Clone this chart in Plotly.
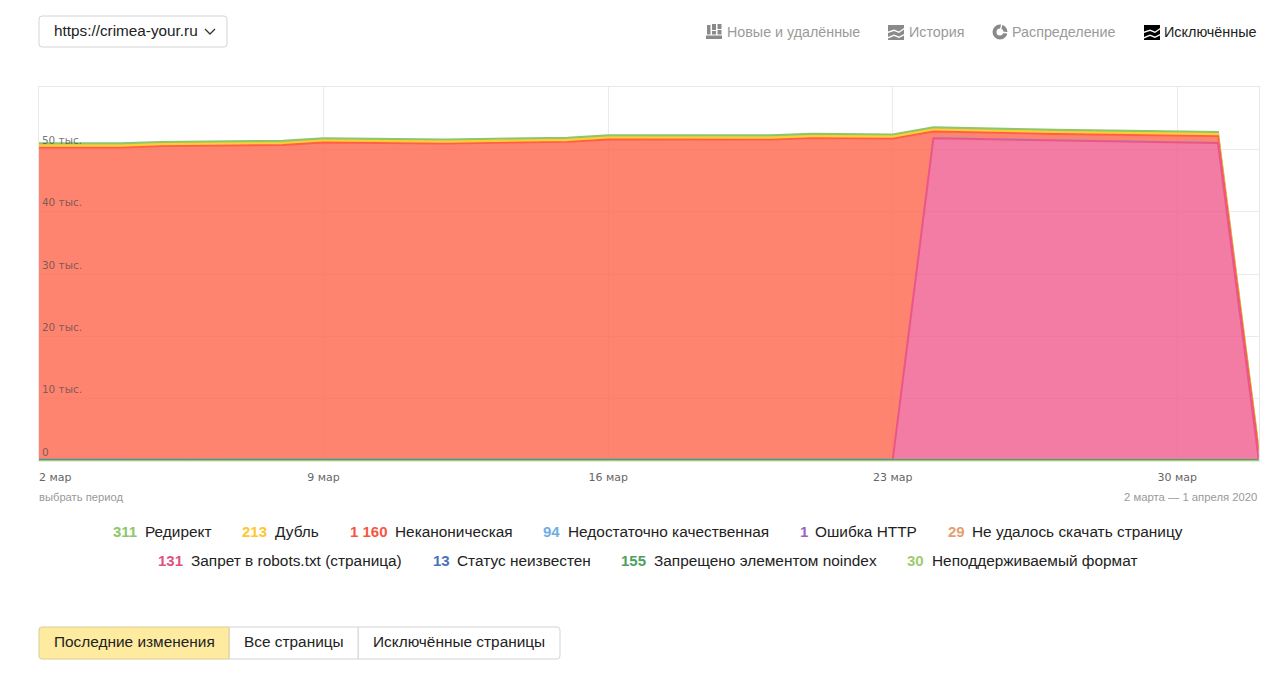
import plotly.graph_objects as go

W, H = 1280, 682

dates = ["2020-03-02", "2020-03-04", "2020-03-05", "2020-03-08", "2020-03-09", "2020-03-11",
         "2020-03-12", "2020-03-15", "2020-03-16", "2020-03-20", "2020-03-21", "2020-03-23",
         "2020-03-24", "2020-03-27", "2020-03-31", "2020-04-01"]

unsupported = [30, 30, 30, 30, 30, 30, 30, 30, 30, 30, 30, 30, 30, 30, 30, 30]
noindex = [150, 150, 155, 155, 160, 155, 155, 155, 160, 155, 155, 155, 155, 155, 155, 155]
status_unknown = [13, 13, 13, 13, 13, 13, 13, 13, 13, 13, 13, 13, 13, 13, 13, 13]
robots = [0, 0, 0, 0, 0, 0, 0, 0, 0, 0, 0, 0, 51570, 51220, 50800, 131]
failed = [29, 29, 29, 29, 29, 29, 29, 29, 29, 29, 29, 29, 29, 29, 29, 29]
http_error = [1, 1, 1, 1, 1, 1, 1, 1, 1, 1, 1, 1, 1, 1, 1, 1]
low_quality = [100, 100, 100, 100, 100, 100, 100, 100, 100, 100, 100, 100, 100, 100, 100, 94]
noncanonical = [49965, 49965, 50195, 50365, 50765, 50595, 50595, 50875, 51245, 51245, 51485, 51395,
                965, 915, 1000, 1160]
duplicate = [330, 330, 330, 330, 330, 330, 330, 330, 330, 330, 330, 330, 330, 330, 330, 213]
redirect = [340, 340, 340, 340, 340, 340, 340, 340, 340, 340, 340, 340, 340, 340, 340, 311]

x_tick_dates = ["2020-03-09", "2020-03-16", "2020-03-23", "2020-03-30"]
x_tick_labels = ["9 мар", "16 мар", "23 мар", "30 мар"]
y_tick_values = [0, 10000, 20000, 30000, 40000, 50000]
y_tick_labels = ["0", "10 тыс.", "20 тыс.", "30 тыс.", "40 тыс.", "50 тыс."]

series = [
    (unsupported, "Неподдерживаемый формат", (160, 204, 112), 0.75, 1.5),
    (noindex, "Запрещено элементом noindex", (79, 160, 96), 0.75, 1.5),
    (status_unknown, "Статус неизвестен", (74, 112, 192), 0.75, 1),
    (robots, "Запрет в robots.txt (страница)", (238, 85, 135), 0.77, 2),
    (failed, "Не удалось скачать страницу", (226, 160, 112), 0.75, 1),
    (http_error, "Ошибка HTTP", (160, 96, 192), 0.75, 0.5),
    (low_quality, "Недостаточно качественная", (112, 174, 224), 0.75, 1),
    (noncanonical, "Неканоническая", (255, 95, 68), 0.77, 1.8),
    (duplicate, "Дубль", (255, 205, 50), 0.85, 2),
    (redirect, "Редирект", (143, 198, 106), 0.85, 2),
]

legend_row1 = [("311", "Редирект", "#8fc66a", 113, 145), ("213", "Дубль", "#ffc62e", 242, 275),
               ("1 160", "Неканоническая", "#f4573f", 350, 395),
               ("94", "Недостаточно качественная", "#70aee0", 543, 568),
               ("1", "Ошибка HTTP", "#a060c0", 800, 815),
               ("29", "Не удалось скачать страницу", "#e2a070", 948, 972)]
legend_row2 = [("131", "Запрет в robots.txt (страница)", "#e0527f", 158, 191),
               ("13", "Статус неизвестен", "#4a70c0", 433, 457),
               ("155", "Запрещено элементом noindex", "#4fa060", 621, 654),
               ("30", "Неподдерживаемый формат", "#a0cc70", 907, 932)]


def px(x):
    return x / W


def py(y):
    return 1 - y / H


fig = go.Figure()
# Stacked fills, bottom layer first
for values, name, c, alpha, width in series:
    fig.add_trace(go.Scatter(
        x=dates, y=values, name=name, mode="lines", stackgroup="one",
        line=dict(width=0),
        fillcolor=f"rgba({c[0]},{c[1]},{c[2]},{alpha})",
        showlegend=False, hoverinfo="x+y+name",
    ))

# Outlines of the stack: the top layer is drawn first, so the lower layers lie over it
running = [0] * len(dates)
outlines = []
for values, name, c, alpha, width in series:
    running = [a + b for a, b in zip(running, values)]
    outlines.append((list(running), name, c, width))
for cumulative, name, c, width in reversed(outlines):
    fig.add_trace(go.Scatter(
        x=dates, y=cumulative, name=name, mode="lines", cliponaxis=False,
        line=dict(color=f"rgb({c[0]},{c[1]},{c[2]})", width=width),
        showlegend=False, hoverinfo="skip",
    ))

shapes = []
annotations = []


def text(x, y, s, size=15.4, color="#222222", anchor="left", family="Liberation Sans"):
    annotations.append(dict(
        x=px(x - 1 if anchor == "left" else x + 1), y=py(y - 1), xref="paper", yref="paper", text=s, showarrow=False,
        xanchor=anchor, yanchor="middle", borderpad=0,
        font=dict(family=family, size=size, color=color),
    ))


def round_rect(x0, y0, x1, y1, fill, line="#d4d4d4", rl=3, rr=3):
    X0, X1, Y0, Y1 = px(x0), px(x1), py(y0), py(y1)
    rx_l, ry_l, rx_r, ry_r = rl / W, rl / H, rr / W, rr / H
    path = (f"M{X0 + rx_l},{Y0} L{X1 - rx_r},{Y0} Q{X1},{Y0} {X1},{Y0 - ry_r} "
            f"L{X1},{Y1 + ry_r} Q{X1},{Y1} {X1 - rx_r},{Y1} L{X0 + rx_l},{Y1} "
            f"Q{X0},{Y1} {X0},{Y1 + ry_l} L{X0},{Y0 - ry_l} Q{X0},{Y0} {X0 + rx_l},{Y0} Z")
    shapes.append(dict(type="path", xref="paper", yref="paper", path=path, fillcolor=fill,
                       line=dict(color=line, width=1)))


def poly(points, fill=None, line=None, width=1.5):
    path = "M" + " L".join(f"{px(a)},{py(b)}" for a, b in points)
    if fill:
        path += " Z"
    shapes.append(dict(type="path", xref="paper", yref="paper", path=path,
                       fillcolor=fill if fill else "rgba(0,0,0,0)",
                       line=dict(color=line if line else "rgba(0,0,0,0)", width=width if line else 0)))


def rect(x0, y0, x1, y1, fill):
    shapes.append(dict(type="rect", xref="paper", yref="paper", x0=px(x0), x1=px(x1), y0=py(y1), y1=py(y0),
                       fillcolor=fill, line=dict(width=0)))


def bands_icon(x, color):
    # three stacked wavy bands with narrow gaps
    poly([(x, 25), (x + 16, 25), (x + 16, 28), (x + 11, 31.5), (x + 6, 29.5), (x, 31.5)], fill=color)
    poly([(x, 33), (x + 6, 31), (x + 11, 33), (x + 16, 29.5), (x + 16, 34), (x + 11, 36.5), (x + 6, 34.5), (x, 37)], fill=color)
    poly([(x, 38.5), (x + 6, 36), (x + 11, 38), (x + 16, 35.5), (x + 16, 40), (x, 40)], fill=color)


# Site selector
round_rect(39, 16, 227, 47, "#ffffff")
text(54, 32, "https://crimea-your.ru", size=15.3)
poly([(205, 29), (210, 34), (215, 29)], line="#333333", width=1.3)

# View switcher
gray = "#8a8a8a"
rect(707, 25, 710.5, 34.5, gray)
rect(712, 24, 716, 30, gray)
rect(712, 31, 716, 34.5, gray)
rect(717.5, 24, 721.5, 29, gray)
rect(717.5, 30, 721.5, 34.5, gray)
rect(706, 35.5, 722, 39, gray)
text(727, 33, "Новые и удалённые", size=14.3, color="#9a9a9a")
bands_icon(888, gray)
text(909, 33, "История", size=14.3, color="#9a9a9a")
shapes.append(dict(type="circle", xref="paper", yref="paper", x0=px(994.5), x1=px(1005.5), y0=py(37.5), y1=py(26.5),
                   fillcolor="rgba(0,0,0,0)", line=dict(color=gray, width=4)))
poly([(1000, 32), (1002, 23.5)], line="#ffffff", width=1.3)
poly([(1000, 32), (1009, 33)], line="#ffffff", width=1.3)
text(1012, 33, "Распределение", size=14.3, color="#9a9a9a")
bands_icon(1144, "#000000")
text(1164, 33, "Исключённые", size=14.4, color="#222222")

# Captions and x label at the left edge
text(39, 478, "2 мар", size=11, color="#666666", family="DejaVu Sans")
text(39, 497.5, "выбрать период", size=11.2, color="#999999")
text(1257, 497.5, "2 марта — 1 апреля 2020", size=11.3, color="#999999", anchor="right")

# Legend
for row, y in ((legend_row1, 532), (legend_row2, 561)):
    for num, label, color, xn, xl in row:
        text(xn, y, f"<b>{num}</b>", size=15, color=color)
        text(xl, y, label)

# Bottom tabs
round_rect(358, 627, 560, 659, "#ffffff", rl=0)
round_rect(229, 627, 358, 659, "#ffffff", rl=0, rr=0)
round_rect(39, 627, 229, 659, "#ffeba0", line="#d8cc9a", rr=0)
text(54, 642.5, "Последние изменения")
text(244, 642.5, "Все страницы")
text(373, 642.5, "Исключённые страницы")

fig.update_layout(
    width=W, height=H, margin=dict(l=0, r=0, t=0, b=0),
    paper_bgcolor="#ffffff", plot_bgcolor="#ffffff",
    shapes=shapes, annotations=annotations, showlegend=False,
    xaxis=dict(
        type="date", domain=[px(39), px(1258.6)], range=["2020-03-02", "2020-04-01"],
        tickmode="array", tickvals=x_tick_dates, ticktext=x_tick_labels,
        tickfont=dict(family="DejaVu Sans", size=11, color="#666666"),
        showgrid=True, gridcolor="#ebebeb", gridwidth=1, zeroline=False,
        showline=True, linecolor="#e8e8e8", linewidth=1, mirror=True, ticks="", layer="below traces",
        ticklabelstandoff=6,
    ),
    yaxis=dict(
        domain=[py(461), py(87)], range=[0, 60000],
        tickmode="array", tickvals=y_tick_values, ticktext=y_tick_labels,
        tickfont=dict(family="DejaVu Sans", size=10.5, color="rgba(90,80,80,0.8)"),
        ticklabelposition="inside", ticklabelshift=-9, ticklabelstandoff=2,
        showgrid=True, gridcolor="#ebebeb", gridwidth=1, zeroline=False,
        showline=True, linecolor="rgba(0,0,0,0.09)", linewidth=1, mirror=True, ticks="", layer="above traces",
    ),
)

fig.write_html("out.html", config=dict(displayModeBar=False),
               post_script="document.body.style.margin='0';document.body.style.overflow='hidden';")
